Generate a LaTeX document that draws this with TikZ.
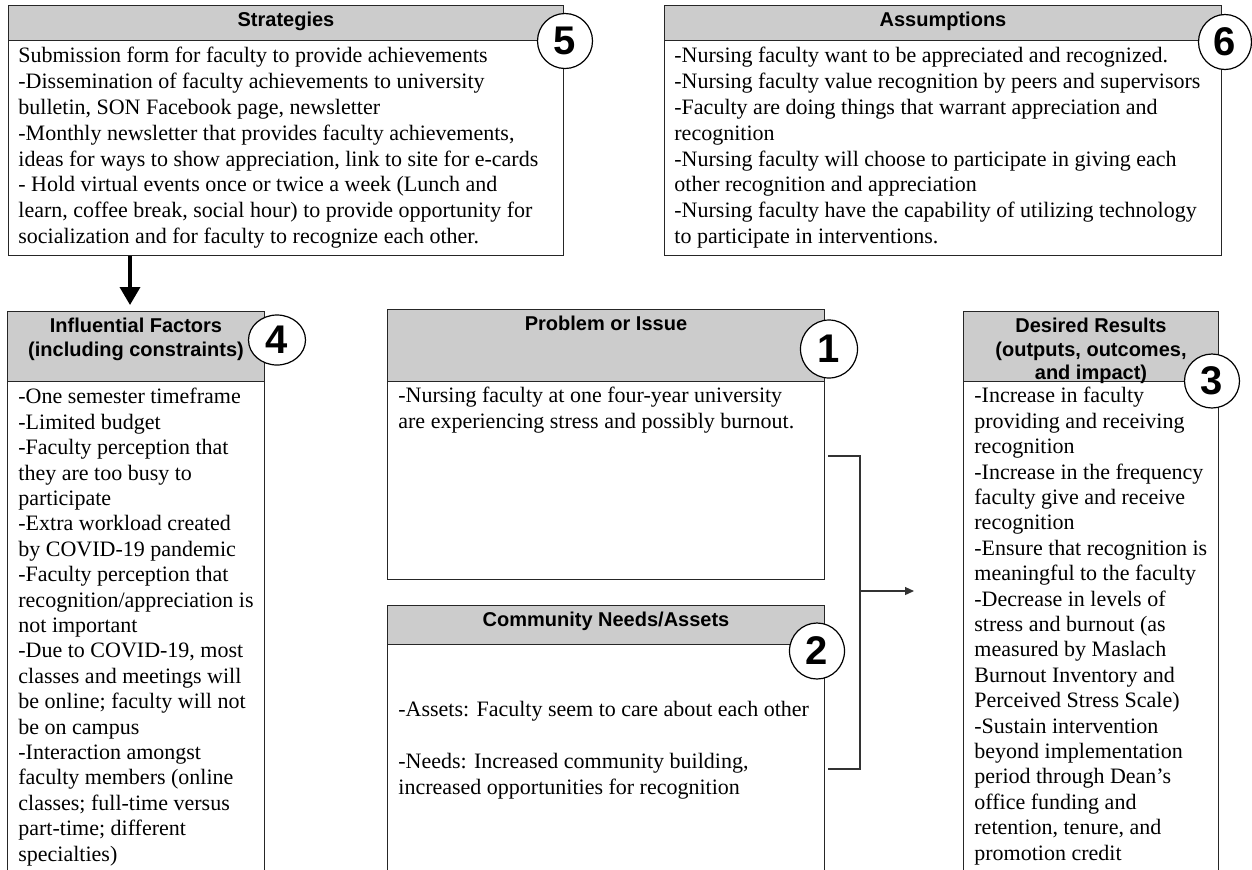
\documentclass[tikz,border=0pt]{standalone}
\usepackage{fontspec}
\setmainfont{Liberation Serif}
\setsansfont{Liberation Sans}
\usetikzlibrary{arrows.meta,shapes.geometric,calc}

\begin{document}
\begin{tikzpicture}[x=0.5pt,y=-0.5pt,
  hdr/.style={draw=black!85,fill=black!20,line width=0.5pt,anchor=north west,inner sep=0pt},
  bdy/.style={draw=black!85,fill=white,line width=0.5pt,anchor=north west,inner sep=0pt},
  hdrtxt/.style={anchor=north,inner sep=0pt,align=center,font=\sffamily\bfseries\fontsize{10}{11.6}\selectfont},
  txt/.style={anchor=north west,inner sep=0pt,align=left,font=\fontsize{11}{12.9}\selectfont},
  longtxt/.style={txt,font=\fontsize{11}{12.7}\selectfont},
  num/.style={ellipse,draw=black,fill=white,line width=0.6pt,inner sep=0pt,font=\sffamily\bfseries\fontsize{20}{20}\selectfont},
  conn/.style={draw=black!80,line width=0.6pt}]
\useasboundingbox (0,0) rectangle (1252,869);
\clip (0,0) rectangle (1252,869);
% boxes: header band + body
\node[hdr,minimum width=277.5pt,minimum height=17.5pt] (strath) at (8,5) {};
\node[bdy,minimum width=277.5pt,minimum height=107.5pt] (strat) at (8,40) {};
\node[hdr,minimum width=278.5pt,minimum height=17.5pt] (assumh) at (664,5) {};
\node[bdy,minimum width=278.5pt,minimum height=107.5pt] (assum) at (664,40) {};
\node[hdr,minimum width=128.5pt,minimum height=35pt] (inflh) at (7,311) {};
\node[bdy,minimum width=128.5pt,minimum height=260pt] (infl) at (7,381) {};
\node[hdr,minimum width=218.5pt,minimum height=36pt] (probh) at (387,309) {};
\node[bdy,minimum width=218.5pt,minimum height=99pt] (prob) at (387,381) {};
\node[hdr,minimum width=218.5pt,minimum height=19.5pt] (commh) at (387,605) {};
\node[bdy,minimum width=218.5pt,minimum height=130pt] (comm) at (387,644) {};
\node[hdr,minimum width=127.5pt,minimum height=35pt] (resh) at (963,311) {};
\node[bdy,minimum width=127.5pt,minimum height=260pt] (res) at (963,381) {};
% header titles
\node[hdrtxt] (strattitle) at ($(strath.north)+(0,7)$) {Strategies};
\node[hdrtxt] (assumtitle) at ($(assumh.north)+(0,7)$) {Assumptions};
\node[hdrtxt] (infltitle) at ($(inflh.north)+(0,7)$) {Influential Factors\\(including constraints)};
\node[hdrtxt] (probtitle) at ($(probh.north)+(0,7)$) {Problem or Issue};
\node[hdrtxt] (commtitle) at ($(commh.north)+(0,7)$) {Community Needs/Assets};
\node[hdrtxt] (restitle) at ($(resh.north)+(0,7)$) {Desired Results\\(outputs, outcomes,\\and impact)};
% body texts
\node[txt] (strattext) at (18,47) {Submission form for faculty to provide achievements\\
-Dissemination of faculty achievements to university\\
bulletin, SON Facebook page, newsletter\\
-Monthly newsletter that provides faculty achievements,\\
ideas for ways to show appreciation, link to site for e-cards\\
- Hold virtual events once or twice a week (Lunch and\\
learn, coffee break, social hour) to provide opportunity for\\
socialization and for faculty to recognize each other.};
\node[txt] (assumtext) at (674,47) {-Nursing faculty want to be appreciated and recognized.\\
-Nursing faculty value recognition by peers and supervisors\\
-Faculty are doing things that warrant appreciation and\\
recognition\\
-Nursing faculty will choose to participate in giving each\\
other recognition and appreciation\\
-Nursing faculty have the capability of utilizing technology\\
to participate in interventions.};
\node[longtxt] (infltext) at (18,388) {-One semester timeframe\\
-Limited budget\\
-Faculty perception that\\
they are too busy to\\
participate\\
-Extra workload created\\
by COVID-19 pandemic\\
-Faculty perception that\\
recognition/appreciation is\\
not important\\
-Due to COVID-19, most\\
classes and meetings will\\
be online; faculty will not\\
be on campus\\
-Interaction amongst\\
faculty members (online\\
classes; full-time versus\\
part-time; different\\
specialties)};
\node[txt] (probtext) at (398,387) {-Nursing faculty at one four-year university\\
are experiencing stress and possibly burnout.};
\node[txt] (commtext) at (398,701) {-Assets: Faculty seem to care about each other\\[12.9pt]
-Needs: Increased community building,\\
increased opportunities for recognition};
\node[longtxt] (restext) at (974,387) {-Increase in faculty\\
providing and receiving\\
recognition\\
-Increase in the frequency\\
faculty give and receive\\
recognition\\
-Ensure that recognition is\\
meaningful to the faculty\\
-Decrease in levels of\\
stress and burnout (as\\
measured by Maslach\\
Burnout Inventory and\\
Perceived Stress Scale)\\
-Sustain intervention\\
beyond implementation\\
period through Dean’s\\
office funding and\\
retention, tenure, and\\
promotion credit};
% numbered circles
\node[num,minimum width=27.5pt,minimum height=27.5pt] (n5) at (565,41) {5};
\node[num,minimum width=26.5pt,minimum height=27.5pt] (n6) at (1225,42) {6};
\node[num,minimum width=28.5pt,minimum height=25pt] (n4) at (277,340) {4};
\node[num,minimum width=28.5pt,minimum height=29pt] (n1) at (829,349) {1};
\node[num,minimum width=27.5pt,minimum height=28pt] (n2) at (817,651) {2};
\node[num,minimum width=27.5pt,minimum height=27pt] (n3) at (1212,381) {3};
% connectors
\draw[line width=1.8pt,-{Triangle[length=9pt,width=10pt]},shorten >=3pt] (strat.south -| 130,0) -- (inflh.north -| 130,0);
\draw[conn] ($(prob.north east)+(3,75)$) -- ++(32,0) |- ($(comm.north east)+(3,125)$);
\coordinate (brk) at ($(prob.north east)+(35,210)$);
\coordinate (tip) at ($(brk)+(54,0)$);
\draw[conn,-{Triangle[length=4.5pt,width=4pt]}] (brk) -- (tip);
\end{tikzpicture}
\end{document}
